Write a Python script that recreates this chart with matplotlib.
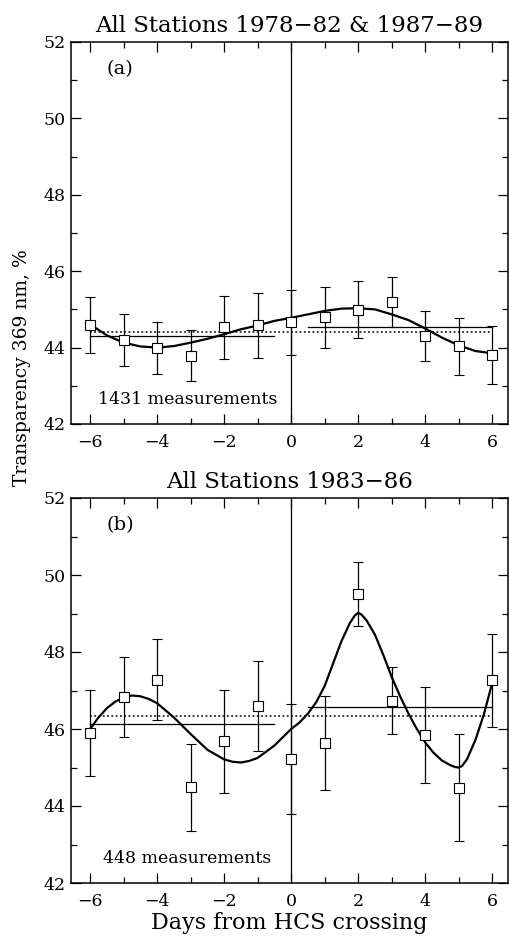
import matplotlib
matplotlib.use("Agg")
import matplotlib.pyplot as plt
from matplotlib.ticker import MultipleLocator

plt.rcParams['font.family'] = ['DejaVu Serif', 'DejaVu Sans']

days = [-6, -5, -4, -3, -2, -1, 0, 1, 2, 3, 4, 5, 6]

# Panel (a): All Stations 1978-82 & 1987-89
a_vals = [44.59, 44.20, 43.98, 43.79, 44.53, 44.58, 44.66, 44.79, 44.99, 45.20, 44.31, 44.03, 43.81]
a_err = [0.74, 0.67, 0.68, 0.66, 0.83, 0.85, 0.85, 0.79, 0.75, 0.65, 0.66, 0.74, 0.75]
a_curve_x = [-6, -5.5, -5, -4.5, -4, -3.5, -3, -2.5, -2, -1.5, -1, -0.5, 0,
             0.5, 1, 1.5, 2, 2.5, 3, 3.5, 4, 4.5, 5, 5.5, 6]
a_curve_y = [44.61, 44.32, 44.13, 44.03, 44.00, 44.04, 44.13, 44.23, 44.35, 44.48, 44.58, 44.70, 44.78,
             44.87, 44.96, 45.02, 45.03, 45.00, 44.87, 44.72, 44.50, 44.26, 44.06, 43.91, 43.85]
a_mean_before = 44.31
a_mean_after = 44.55
a_mean_all = 44.40

# Panel (b): All Stations 1983-86
b_vals = [45.90, 46.82, 47.28, 44.49, 45.68, 46.59, 45.22, 45.64, 49.51, 46.74, 45.84, 44.48, 47.26]
b_err = [1.12, 1.04, 1.05, 1.13, 1.33, 1.17, 1.42, 1.22, 0.84, 0.87, 1.24, 1.38, 1.22]
b_curve_x = [-6, -5.75, -5.5, -5.25, -5, -4.75, -4.5, -4.25, -4, -3.5, -3, -2.5, -2, -1.75, -1.5, -1.25, -1, -0.5, 0,
             0.25, 0.5, 0.75, 1, 1.25, 1.5, 1.75, 1.9, 2, 2.1, 2.25, 2.5, 2.75, 3, 3.25, 3.5, 3.75, 4,
             4.25, 4.5, 4.75, 4.9, 5, 5.1, 5.25, 5.5, 5.75, 6]
b_curve_y = [46.00, 46.30, 46.54, 46.71, 46.82, 46.87, 46.85, 46.78, 46.67, 46.30, 45.87, 45.46, 45.21, 45.15, 45.13, 45.17, 45.25, 45.57, 46.00,
             46.17, 46.40, 46.70, 47.12, 47.70, 48.28, 48.75, 48.95, 49.02, 48.97, 48.82, 48.45, 47.92, 47.35, 46.85, 46.40, 46.00, 45.65,
             45.38, 45.18, 45.06, 45.01, 45.00, 45.04, 45.22, 45.72, 46.38, 47.20]
b_mean_before = 46.14
b_mean_after = 46.58
b_mean_all = 46.35

titles = ["All Stations 1978\u221282 & 1987\u221289", "All Stations 1983\u221286"]
panel_labels = ["(a)", "(b)"]
counts = ["1431 measurements", "448 measurements"]
xlabel = "Days from HCS crossing"
ylabel = "Transparency 369 nm, %"

fig = plt.figure(figsize=(5.10, 9.43), dpi=100)
W, H = 510, 943
boxes = [(71, 42, 508, 424), (71, 498, 508, 883)]

panels = [
    (a_vals, a_err, a_curve_x, a_curve_y, a_mean_before, a_mean_after, a_mean_all),
    (b_vals, b_err, b_curve_x, b_curve_y, b_mean_before, b_mean_after, b_mean_all),
]

for i, (vals, err, cx, cy, mb, ma, mall) in enumerate(panels):
    l, t, r, b = boxes[i]
    ax = fig.add_axes([l / W, 1 - b / H, (r - l) / W, (b - t) / H])
    ax.set_xlim(-6.57, 6.47)
    ax.set_ylim(42, 52)
    ax.axvline(0, color='black', lw=0.9)
    ax.plot(cx, cy, color='black', lw=1.6, solid_joinstyle='round')
    ax.plot([-6, -0.5], [mb, mb], color='black', lw=0.9)
    ax.plot([0.5, 6], [ma, ma], color='black', lw=0.9)
    ax.plot([-6, 6], [mall, mall], color='black', lw=1.1, ls=(0, (1.2, 1.6)))
    ax.errorbar(days, vals, yerr=err, fmt='s', ms=7, mfc='white', mec='black', mew=0.8,
                ecolor='black', elinewidth=0.9, capsize=3.5, capthick=0.9, zorder=3)
    ax.set_title(titles[i], fontsize=16.5, pad=7)
    ax.text(-5.1, 51.3, panel_labels[i], fontsize=14, ha='center', va='center')
    ax.text(-3.1, 42.63, counts[i], fontsize=12.5, ha='center', va='center')
    ax.xaxis.set_major_locator(MultipleLocator(2))
    ax.xaxis.set_minor_locator(MultipleLocator(1))
    ax.yaxis.set_major_locator(MultipleLocator(2))
    ax.yaxis.set_minor_locator(MultipleLocator(1))
    ax.tick_params(which='both', direction='in', top=True, right=True, width=0.9)
    ax.tick_params(which='major', length=7, labelsize=12.5, pad=7)
    ax.tick_params(which='minor', length=4)
    ax.set_xticks([-6, -4, -2, 0, 2, 4, 6])
    ax.set_xticklabels(["\u22126", "\u22124", "\u22122", "0", "2", "4", "6"])
    ax.tick_params(axis='y', pad=4)
    for s in ax.spines.values():
        s.set_linewidth(1.1)
    if i == 1:
        ax.set_xlabel(xlabel, fontsize=16, labelpad=2)

fig.text(22 / W, 1 - 368 / H, ylabel, rotation=90, fontsize=13.5, ha='center', va='center')

fig.savefig("out.png", dpi=100)
